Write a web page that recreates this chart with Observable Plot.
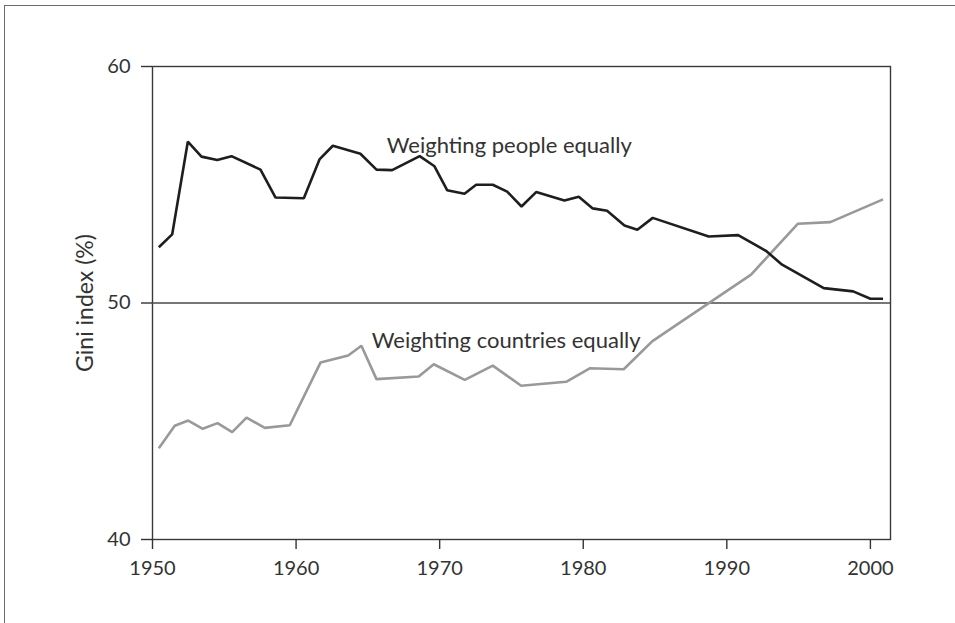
<!DOCTYPE html>
<html>
<head>
<meta charset="utf-8">
<script src="https://cdn.jsdelivr.net/npm/d3@7"></script>
<script src="https://cdn.jsdelivr.net/npm/@observablehq/plot@0.6"></script>
<style>
  html, body { margin: 0; padding: 0; background: #fff; overflow: hidden; }
  #wrap { position: relative; width: 955px; height: 623px; }
  #border { position: absolute; left: 4px; top: 5px; right: 0; bottom: 0;
            border-left: 1.5px solid #6b6b6b; border-top: 1.5px solid #6b6b6b; pointer-events: none; }
  #chart { position: absolute; left: 0; top: 0; }
</style>
</head>
<body>
<div id="wrap"><div id="border"></div><div id="chart"></div></div>
<script>
// Weighting people equally
const peopleYears = [1950.44, 1951.37, 1952.46, 1953.41, 1954.51, 1955.5, 1957.52, 1958.57, 1960.54, 1961.63, 1962.56, 1964.48, 1965.6, 1966.69, 1968.61, 1969.64, 1970.52, 1971.73, 1972.54, 1973.7, 1974.7, 1975.7, 1976.72, 1978.69, 1979.69, 1980.66, 1981.66, 1982.87, 1983.77, 1984.84, 1988.74, 1990.79, 1992.76, 1993.85, 1996.75, 1998.8, 2000.0, 2000.88];
const peopleGini = [52.36, 52.9, 56.82, 56.19, 56.05, 56.21, 55.64, 54.46, 54.43, 56.07, 56.65, 56.31, 55.64, 55.62, 56.21, 55.78, 54.77, 54.62, 55.0, 55.0, 54.71, 54.08, 54.69, 54.33, 54.49, 54.0, 53.9, 53.28, 53.1, 53.6, 52.81, 52.87, 52.19, 51.62, 50.63, 50.49, 50.18, 50.18];

// Weighting countries equally
const countryYears = [1950.44, 1951.55, 1952.49, 1953.5, 1954.53, 1955.55, 1956.55, 1957.82, 1959.56, 1961.7, 1963.63, 1964.55, 1965.6, 1968.54, 1969.59, 1971.75, 1973.7, 1975.68, 1978.81, 1980.45, 1982.82, 1984.8, 1985.49, 1991.69, 1994.94, 1997.21, 2000.88];
const countryGini = [43.86, 44.81, 45.03, 44.68, 44.92, 44.54, 45.15, 44.72, 44.83, 47.48, 47.78, 48.19, 46.78, 46.89, 47.41, 46.75, 47.35, 46.5, 46.67, 47.24, 47.2, 48.38, 48.66, 51.2, 53.35, 53.42, 54.38];

// Axis ticks
const xTicks = [1950, 1960, 1970, 1980, 1990, 2000];
const yTicks = [40, 50, 60];
const yLabel = "Gini index (%)";

// Series labels
const labelText = ["Weighting people equally", "Weighting countries equally"];
const labelYear = [1966.32, 1965.27];
const labelGini = [56.65, 48.40];

const people = peopleYears.map((y, i) => ({year: y, gini: peopleGini[i]}));
const countries = countryYears.map((y, i) => ({year: y, gini: countryGini[i]}));
const labels = labelText.map((t, i) => ({text: t, year: labelYear[i], gini: labelGini[i]}));

const FONT = "Lato, 'Noto Sans', sans-serif";
const chart = Plot.plot({
  width: 955,
  height: 623,
  marginLeft: 152,
  marginRight: 65,
  marginTop: 66,
  marginBottom: 84,
  style: {fontFamily: FONT, fontSize: "20px", color: "#333", background: "transparent", overflow: "visible"},
  x: {domain: [1950, 2001.4]},
  y: {domain: [40, 60]},
  marks: [
    Plot.frame({stroke: "#3a3a3a", strokeWidth: 1.4}),
    Plot.ruleY([50], {stroke: "#4a4a4a", strokeWidth: 1.4}),
    Plot.axisX({ticks: xTicks, tickFormat: d => String(d), tickSize: 10, tickPadding: 11, label: null, stroke: "#333", strokeWidth: 1.4, fill: "#333", fontSize: 20}),
    Plot.axisY({ticks: yTicks, tickSize: 11, tickPadding: 11, label: null, stroke: "#333", strokeWidth: 1.4, fill: "#333", fontSize: 20}),
    Plot.text([yLabel], {frameAnchor: "left", textAnchor: "middle", dx: -67, rotate: -90, fill: "#333", fontSize: 23}),
    Plot.line(countries, {x: "year", y: "gini", stroke: "#999", strokeWidth: 2.6, strokeLinejoin: "miter", strokeLinecap: "butt"}),
    Plot.line(people, {x: "year", y: "gini", stroke: "#1e1e1e", strokeWidth: 2.6, strokeLinejoin: "miter", strokeLinecap: "butt"}),
    Plot.text(labels, {x: "year", y: "gini", text: "text", textAnchor: "start", fill: "#333", fontSize: 22})
  ]
});
document.getElementById("chart").appendChild(chart);
</script>
</body>
</html>
